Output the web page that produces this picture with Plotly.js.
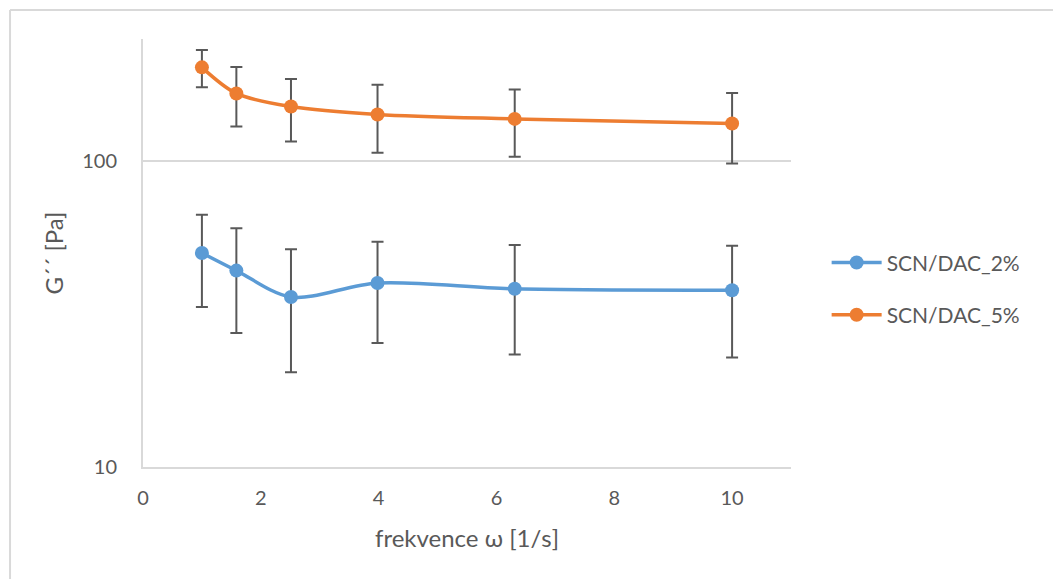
<!DOCTYPE html>
<html>
<head>
<meta charset="utf-8">
<script src="https://cdn.plot.ly/plotly-3.0.1.min.js"></script>
<style>
  html, body { margin: 0; padding: 0; background: #fff; }
  #chart { width: 1053px; height: 579px; }
</style>
</head>
<body>
<div id="chart"></div>
<script>
// Data
const frequency = [1, 1.585, 2.512, 3.981, 6.31, 10];
const seriesNames = ["SCN/DAC_2%", "SCN/DAC_5%"];
const g2_2pct = [50.0, 43.8, 35.9, 39.9, 38.2, 37.8];
const err_2pct = [16.7, 16.4, 15.5, 14.5, 14.9, 15.0];
const g2_5pct = [202, 166, 150.4, 141.7, 137.1, 132.4];
const err_5pct = [28, 36.5, 34.7, 35.4, 34, 34.3];
const xTickVals = [0, 2, 4, 6, 8, 10];
const yTickVals = [10, 100];
const yTickText = ["10", "100"];

const FONT = "Lato, 'Open Sans', sans-serif";
const TXT = "#595959";

function makeTrace(name, y, err, color, group) {
  return {
    type: "scatter",
    mode: "lines+markers",
    name: name,
    legendgroup: group,
    x: frequency,
    y: y,
    line: { color: color, width: 3.5, shape: "spline", smoothing: 0.9 },
    marker: { color: color, size: 14 },
    error_y: {
      type: "data", array: err, visible: true,
      color: "#595959", thickness: 2, width: 6
    }
  };
}

const data = [
  makeTrace(seriesNames[0], g2_2pct, err_2pct, "#5B9BD5", "a"),
  makeTrace(seriesNames[1], g2_5pct, err_5pct, "#ED7D31", "b")
];

const layout = {
  width: 1053, height: 579,
  margin: { l: 143, r: 262, t: 39, b: 112, pad: 0 },
  paper_bgcolor: "#ffffff",
  plot_bgcolor: "#ffffff",
  font: { family: FONT, color: TXT, size: 20 },
  showlegend: true,
  xaxis: {
    type: "linear", range: [0, 11], autorange: false,
    tickvals: xTickVals, ticktext: xTickVals.map(String),
    showgrid: false, zeroline: false,
    showline: true, linecolor: "#d9d9d9", linewidth: 2,
    ticks: "", ticklabelstandoff: 12,
    tickfont: { family: FONT, size: 20, color: TXT },
    title: { text: "frekvence ω [1/s]", font: { family: FONT, size: 24, color: TXT }, standoff: 22 },
    automargin: false
  },
  yaxis: {
    type: "log", range: [1, Math.log10(250)], autorange: false,
    tickvals: yTickVals, ticktext: yTickText,
    showgrid: true, gridcolor: "#d9d9d9", gridwidth: 2,
    zeroline: false,
    showline: true, linecolor: "#d9d9d9", linewidth: 2,
    ticks: "", ticklabelstandoff: 20,
    tickfont: { family: FONT, size: 20, color: TXT },
    title: { text: "G´´ [Pa]", font: { family: FONT, size: 24, color: TXT }, standoff: 12 },
    automargin: false
  },
  legend: {
    x: 1.055, xanchor: "left",
    y: 0.525, yanchor: "top",
    font: { family: FONT, size: 21, color: TXT },
    tracegroupgap: 22,
    itemwidth: 50,
    bgcolor: "rgba(0,0,0,0)"
  },
  shapes: [
    { type: "line", xref: "paper", yref: "paper", x0: -0.2052, x1: -0.2052, y0: 1.0678, y1: -0.27,
      line: { color: "#d9d9d9", width: 2 } },
    { type: "line", xref: "paper", yref: "paper", x0: -0.2052, x1: 1.42, y0: 1.0678, y1: 1.0678,
      line: { color: "#d9d9d9", width: 2 } }
  ]
};

Plotly.newPlot("chart", data, layout, { displayModeBar: false, staticPlot: true });
</script>
</body>
</html>
